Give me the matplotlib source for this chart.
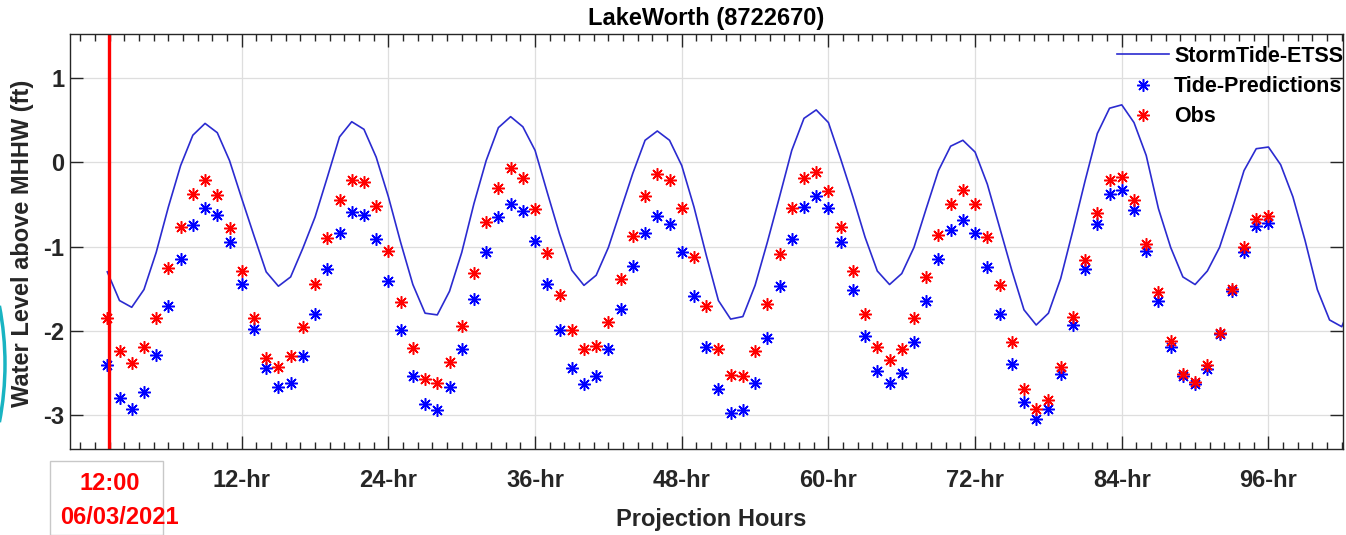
import matplotlib
matplotlib.use('Agg')
import matplotlib.pyplot as plt
from matplotlib.ticker import MultipleLocator, FixedLocator
from matplotlib.patches import Rectangle, Arc
from matplotlib.transforms import IdentityTransform

plt.rcParams['font.family'] = ['Liberation Sans', 'DejaVu Sans']
plt.rcParams['font.weight'] = 'bold'

# hourly values (hours after 0-hr)
obs_hours = list(range(1, 97))
obs = [-1.85, -2.24, -2.38, -2.19, -1.85, -1.25, -0.77, -0.38, -0.21, -0.39,
       -0.78, -1.29, -1.85, -2.32, -2.43, -2.30, -1.95, -1.44, -0.90, -0.45,
       -0.21, -0.24, -0.52, -1.05, -1.66, -2.20, -2.57, -2.62, -2.37, -1.94,
       -1.31, -0.71, -0.30, -0.07, -0.19, -0.56, -1.08, -1.58, -1.99, -2.22,
       -2.18, -1.89, -1.38, -0.87, -0.40, -0.14, -0.21, -0.54, -1.12, -1.71,
       -2.22, -2.52, -2.54, -2.24, -1.68, -1.09, -0.54, -0.19, -0.12, -0.34,
       -0.77, -1.29, -1.80, -2.19, -2.35, -2.22, -1.85, -1.36, -0.86, -0.49,
       -0.33, -0.50, -0.89, -1.45, -2.13, -2.69, -2.93, -2.82, -2.43, -1.83,
       -1.16, -0.60, -0.21, -0.17, -0.45, -0.97, -1.54, -2.12, -2.51, -2.60,
       -2.41, -2.03, -1.50, -1.00, -0.67, -0.64]
tide = [-2.41, -2.80, -2.92, -2.73, -2.29, -1.71, -1.15, -0.74, -0.54, -0.62,
        -0.95, -1.44, -1.98, -2.44, -2.67, -2.62, -2.30, -1.80, -1.27, -0.84,
        -0.59, -0.62, -0.91, -1.41, -1.99, -2.54, -2.87, -2.94, -2.67, -2.21,
        -1.62, -1.07, -0.65, -0.49, -0.58, -0.93, -1.44, -1.99, -2.44, -2.63,
        -2.54, -2.22, -1.74, -1.23, -0.84, -0.64, -0.73, -1.07, -1.59, -2.19,
        -2.69, -2.97, -2.94, -2.62, -2.08, -1.47, -0.91, -0.53, -0.40, -0.54,
        -0.95, -1.51, -2.06, -2.47, -2.62, -2.50, -2.13, -1.64, -1.15, -0.80,
        -0.68, -0.84, -1.24, -1.80, -2.39, -2.84, -3.04, -2.93, -2.51, -1.93,
        -1.27, -0.73, -0.38, -0.33, -0.57, -1.05, -1.64, -2.19, -2.54, -2.63,
        -2.45, -2.04, -1.53, -1.07, -0.76, -0.72]
etss_hours = list(range(1, 104))
etss = [-1.30, -1.64, -1.72, -1.51, -1.07, -0.53, -0.04, 0.32, 0.46, 0.35,
        0.02, -0.43, -0.87, -1.30, -1.47, -1.36, -1.02, -0.65, -0.18, 0.30,
        0.48, 0.39, 0.06, -0.41, -0.95, -1.45, -1.79, -1.81, -1.53, -1.07,
        -0.49, 0.02, 0.41, 0.54, 0.42, 0.14, -0.36, -0.85, -1.28, -1.46,
        -1.34, -1.01, -0.57, -0.13, 0.26, 0.37, 0.26, -0.04, -0.53, -1.10,
        -1.64, -1.86, -1.83, -1.46, -0.95, -0.41, 0.14, 0.52, 0.62, 0.47,
        0.04, -0.41, -0.89, -1.29, -1.45, -1.32, -1.01, -0.55, -0.10, 0.19,
        0.26, 0.12, -0.26, -0.77, -1.28, -1.75, -1.93, -1.79, -1.38, -0.81,
        -0.22, 0.34, 0.64, 0.68, 0.47, 0.08, -0.55, -1.01, -1.36, -1.45,
        -1.29, -1.01, -0.57, -0.10, 0.16, 0.18, -0.03, -0.41, -0.93, -1.51,
        -1.87, -1.95, -1.60]

start_hour = 1.15
xticks = [12, 24, 36, 48, 60, 72, 84, 96]
xticklabels = ['12-hr', '24-hr', '36-hr', '48-hr', '60-hr', '72-hr', '84-hr', '96-hr']
yticks = [-3, -2, -1, 0, 1]

W, H = 1346, 535
fig = plt.figure(figsize=(W / 100, H / 100), dpi=100)
fig.patch.set_facecolor('white')
ax = fig.add_axes([70 / W, 1 - 449 / H, (1343 - 70) / W, (449 - 34) / H])

ax.plot(etss_hours, etss, color='#2b2bd0', lw=1.2, label='StormTide-ETSS')
ax.plot(obs_hours, tide, ls='none', marker=(8, 2, 0), ms=9, mew=1.1,
        color='#0000ff', label='Tide-Predictions')
ax.plot(obs_hours, obs, ls='none', marker=(8, 2, 0), ms=9, mew=1.1,
        color='#ff0000', label='Obs')
ax.axvline(start_hour, color='#ff0000', lw=2.4)

ax.set_xlim(-2.05, 102.1)
ax.set_ylim(-3.4, 1.52)
ax.xaxis.set_major_locator(FixedLocator(xticks))
ax.set_xticklabels(xticklabels)
ax.xaxis.set_minor_locator(MultipleLocator(1.2))
ax.set_yticks(yticks)
ax.set_yticklabels([str(v) for v in yticks])

ax.set_axisbelow(True)
ax.grid(True, which='major', color='#dedede', lw=0.9)
ax.tick_params(which='both', direction='in', top=True, right=True,
               colors='#262626', width=1.0)
ax.tick_params(which='major', length=9.5)
ax.tick_params(which='minor', length=5)
ax.tick_params(axis='x', which='major', labelsize=17, pad=14.5)
ax.tick_params(axis='y', which='major', labelsize=17, pad=4)
for s in ax.spines.values():
    s.set_color('#262626')
    s.set_linewidth(1.0)

ax.legend(loc='upper left', bbox_to_anchor=(1117 / W, 1 - 46 / H),
          bbox_transform=fig.transFigure, frameon=False, borderpad=0,
          borderaxespad=0, handlelength=2.4, handletextpad=0.25,
          labelspacing=0.42, prop={'size': 15.5, 'weight': 'bold'})

fig.text(706 / W, 1 - 25 / H, 'LakeWorth (8722670)', ha='center',
         va='baseline', fontsize=17, fontweight='bold', color='black')
fig.text(711 / W, 1 - 526 / H, 'Projection Hours', ha='center',
         va='baseline', fontsize=17, fontweight='bold', color='#262626')
fig.text(23 / W, 1 - 243 / H, 'Water Level above MHHW (ft)', ha='center',
         va='center', rotation=90, fontsize=17, fontweight='bold',
         color='#262626')

# red start date label in a thin box
fig.add_artist(Rectangle((50, 0), 113, H - 461, transform=IdentityTransform(),
                         facecolor='white', edgecolor='#c8c8c8', lw=1.0))
fig.text(110 / W, 1 - 490 / H, '12:00', ha='center', va='baseline',
         fontsize=17, fontweight='bold', color='#ff0000')
fig.text(119 / W, 1 - 524 / H, '06/03/2021', ha='center', va='baseline',
         fontsize=17, fontweight='bold', color='#ff0000')

# teal slide decoration at the left edge
fig.add_artist(Arc((-300, H - 364), 610, 610, theta1=-11, theta2=11,
                   transform=IdentityTransform(), color='#19b4c2', lw=2.5))

fig.savefig('out.png', dpi=100)
